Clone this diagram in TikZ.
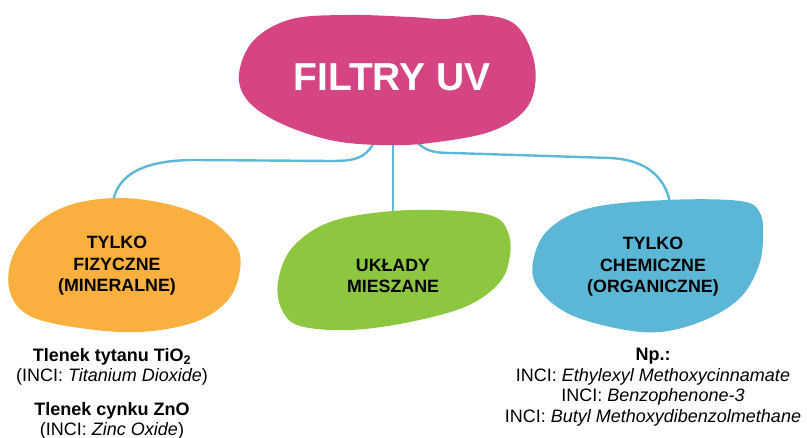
\documentclass[tikz,border=0pt]{standalone}
\usepackage{fontspec}
\setmainfont{Liberation Sans}
\usetikzlibrary{positioning}
\definecolor{uvpink}{RGB}{213,69,131}
\definecolor{fizorange}{RGB}{249,176,62}
\definecolor{mixgreen}{RGB}{141,198,63}
\definecolor{chemblue}{RGB}{91,183,213}
\definecolor{linkblue}{RGB}{92,184,214}

\begin{document}
\begin{tikzpicture}[
        x=1pt, y=-1pt,
        blob/.style={smooth cycle, tension=0.6},
        lbl/.style={align=center, font=\fontsize{17.8}{21.5}\selectfont\bfseries},
        note/.style={align=center, font=\fontsize{18}{20.5}\selectfont},
        link/.style={draw=linkblue, line width=2.4pt}
    ]
    \useasboundingbox (0,0) rectangle (807,438);

    % connector ends
    \coordinate (uv-l) at (375,140);
    \coordinate (uv-m) at (393,140);
    \coordinate (uv-r) at (415,140);
    \coordinate (fiz-top) at (113,201);
    \coordinate (mix-top) at (393,214);
    \coordinate (chem-top) at (670,202);

    \draw[link] (uv-l) .. controls (366,160) and (352,161) .. (330,161)
        -- (195,160) .. controls (132,160) and (117,182) .. (fiz-top);
    \draw[link] (uv-m) -- (mix-top);
    \draw[link] (uv-r) .. controls (425,152) and (436,153) .. (452,153)
        -- (610,158) .. controls (650,160) and (665,180) .. (chem-top);

    % blobs
    \fill[uvpink] plot[blob] coordinates {(239,74) (254,40) (292,19) (350,15) (410,17) (445,19)
        (482,15) (517,26) (535,66) (528,106) (492,131) (430,143) (380,145) (330,140) (280,123) (248,101)};
    \fill[fizorange] plot[blob] coordinates {(117,198) (167,204) (210,220) (236,245) (240,270) (228,300)
        (195,322) (140,332) (80,328) (30,316) (10,292) (12,258) (35,225) (70,205)};
    \fill[mixgreen] plot[blob] coordinates {(393,211) (460,211) (495,217) (508,232) (510,255) (500,282)
        (467,306) (410,322) (350,330) (300,326) (282,310) (278,282) (292,248) (330,222)};
    \fill[chemblue] plot[blob] coordinates {(667,200) (740,201) (760,213) (763,240) (758,268) (740,298)
        (705,320) (660,332) (615,328) (567,313) (538,288) (533,262) (548,230) (590,208)};

    % labels
    \node[font=\fontsize{39}{40}\selectfont\bfseries, text=white] (uv) at (392,77) {FILTRY UV};
    \node[lbl] (fiz) at (117,266) {TYLKO\\FIZYCZNE\\(MINERALNE)};
    \node[lbl] (mix) at (393,276) {UKŁADY\\MIESZANE};
    \node[lbl] (chem) at (653,267) {TYLKO\\CHEMICZNE\\(ORGANICZNE)};

    % examples
    \node[note] (tio) at (112,367) {\textbf{Tlenek tytanu TiO\textsubscript{2}}\\(INCI: \textit{Titanium Dioxide})};
    \node[note] (zno) at (112,421) {\textbf{Tlenek cynku ZnO}\\(INCI: \textit{Zinc Oxide})};
    \node[note] (chem-ex) at (653,387) {\textbf{Np.:}\\INCI: \textit{Ethylexyl Methoxycinnamate}\\
        INCI: \textit{Benzophenone-3}\\INCI: \textit{Butyl Methoxydibenzolmethane}};

\end{tikzpicture}
\end{document}
